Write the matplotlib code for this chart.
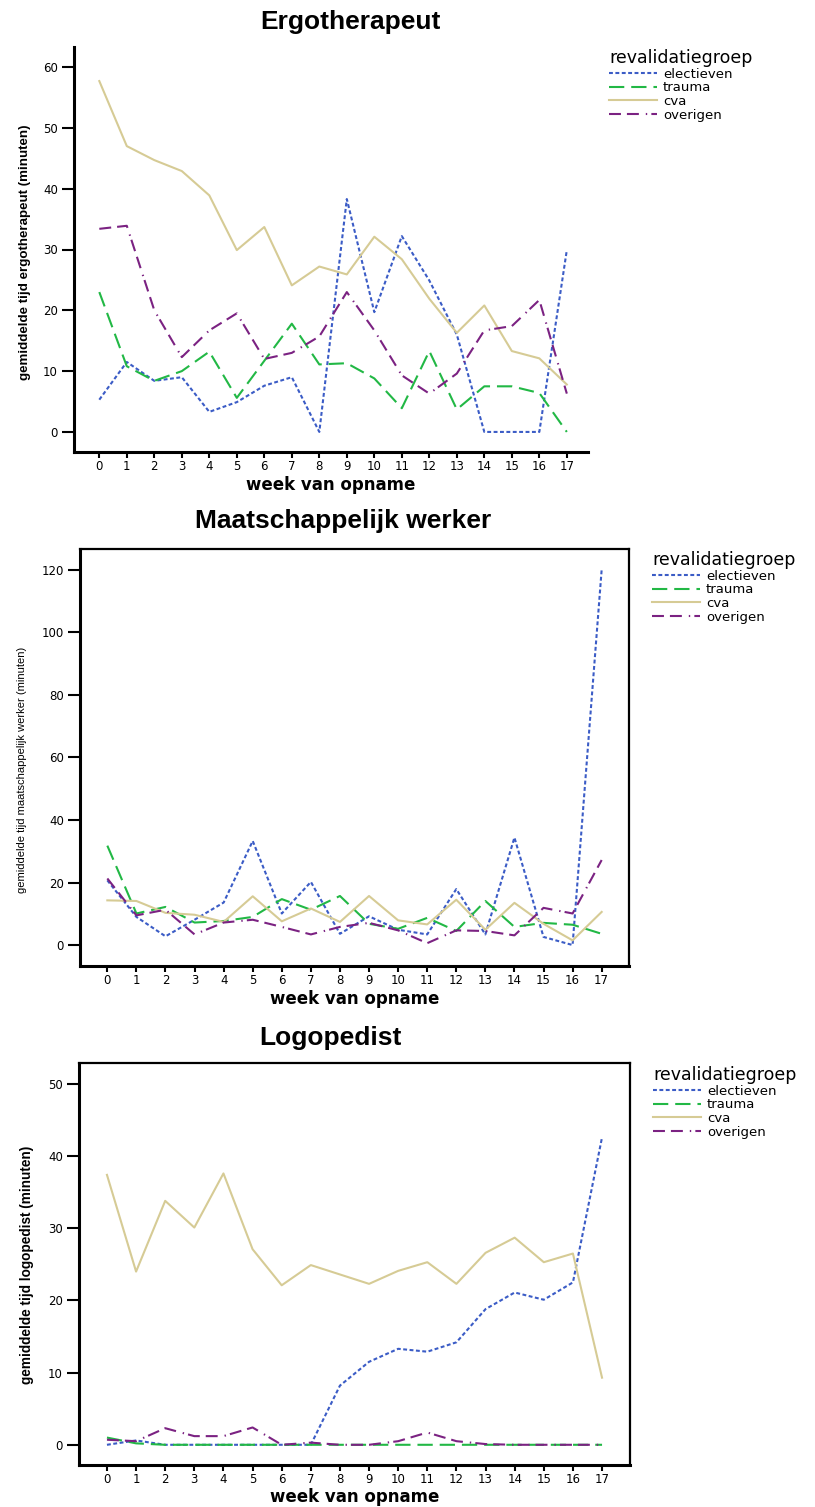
# mean treatment time per week of admission, per rehabilitation group

import matplotlib
matplotlib.use('Agg')
import matplotlib.pyplot as plt

weeks = [0, 1, 2, 3, 4, 5, 6, 7, 8, 9, 10, 11, 12, 13, 14, 15, 16, 17]
groups = ['electieven', 'trauma', 'cva', 'overigen']

# Ergotherapeut
ergo_electieven = [5.3, 11.5, 8.4, 9.0, 3.3, 4.9, 7.6, 9.0, 0.0, 38.3, 19.7, 32.2, 24.9, 16.0, 0.0, 0.0, 0.0, 29.9]
ergo_trauma = [23.0, 10.8, 8.4, 10.0, 13.2, 5.6, 11.7, 17.8, 11.1, 11.3, 8.8, 3.9, 13.3, 3.7, 7.5, 7.5, 6.4, 0.0]
ergo_cva = [57.7, 47.0, 44.7, 42.9, 38.9, 29.9, 33.7, 24.1, 27.2, 25.9, 32.1, 28.4, 21.9, 16.3, 20.8, 13.3, 12.1, 7.8]
ergo_overigen = [33.4, 33.9, 20.0, 12.3, 16.7, 19.5, 12.0, 13.0, 15.7, 23.0, 16.7, 9.3, 6.3, 9.6, 16.7, 17.4, 21.7, 6.3]

# Maatschappelijk werker
mw_electieven = [20.7, 9.0, 2.8, 8.1, 13.6, 33.3, 10.1, 20.2, 3.6, 9.2, 4.9, 3.4, 17.9, 3.4, 34.4, 2.6, 0.0, 120.1]
mw_trauma = [31.8, 10.1, 12.2, 7.2, 7.7, 9.0, 14.7, 11.3, 15.7, 6.8, 5.2, 8.7, 4.5, 14.1, 5.8, 7.1, 6.5, 3.6]
mw_cva = [14.3, 14.1, 10.3, 9.7, 7.4, 15.6, 7.6, 11.7, 7.4, 15.7, 7.9, 6.6, 14.5, 4.9, 13.5, 6.8, 1.5, 10.6]
mw_overigen = [21.3, 9.5, 11.3, 3.4, 7.2, 8.1, 5.8, 3.4, 5.8, 7.1, 4.7, 0.6, 4.7, 4.5, 3.1, 11.9, 10.1, 27.2]

# Logopedist
logo_electieven = [0.0, 0.6, 0.0, 0.0, 0.0, 0.0, 0.0, 0.0, 8.2, 11.5, 13.3, 12.9, 14.2, 18.8, 21.1, 20.1, 22.5, 42.6]
logo_trauma = [1.0, 0.2, 0.0, 0.0, 0.0, 0.0, 0.0, 0.0, 0.0, 0.0, 0.0, 0.0, 0.0, 0.0, 0.0, 0.0, 0.0, 0.0]
logo_cva = [37.4, 24.0, 33.8, 30.1, 37.6, 27.1, 22.1, 24.9, 23.6, 22.3, 24.1, 25.3, 22.3, 26.6, 28.7, 25.3, 26.5, 9.3]
logo_overigen = [0.7, 0.5, 2.3, 1.2, 1.2, 2.4, 0.0, 0.3, 0.0, 0.0, 0.5, 1.7, 0.5, 0.1, 0.0, 0.0, 0.0, 0.0]

plt.rcParams['lines.scale_dashes'] = False

colors = {'electieven': '#3b5cc6', 'trauma': '#22b845', 'cva': '#d6cb95', 'overigen': '#7b2282'}
dashes = {'electieven': (0, (2.8, 1.8)),
          'trauma': (0, (11, 5)),
          'cva': 'solid',
          'overigen': (0, (8.6, 4.3, 8.6, 5.0, 1.0, 3.0))}

W, H = 815, 1507
fig = plt.figure(figsize=(W / 100, H / 100), dpi=100)


def panel(box, xlim, ylim, yticks, series, title, title_xy, ylabel, ylabel_xy, ylabel_style,
          legend_xy, boxed, xlabel_gap):
    x0, y0, x1, y1 = box
    ax = fig.add_axes([x0 / W, 1 - y1 / H, (x1 - x0) / W, (y1 - y0) / H])
    for name, vals in zip(groups, series):
        ax.plot(weeks, vals, color=colors[name], linestyle=dashes[name], lw=1.5, label=name)
    ax.set_xlim(*xlim)
    ax.set_ylim(*ylim)
    ax.set_xticks(weeks)
    ax.set_yticks(yticks)
    ax.tick_params(axis='y', direction='out', length=8.5, width=1.5, pad=3, labelsize=8.5)
    ax.tick_params(axis='x', direction='out', length=4.5, width=1.5, pad=1.5, labelsize=8.5)
    for s in ['left', 'bottom']:
        ax.spines[s].set_linewidth(2.2)
    for s in ['top', 'right']:
        ax.spines[s].set_visible(boxed)
        ax.spines[s].set_linewidth(1.6)
    ax.set_xlabel('week van opname', fontsize=12, fontweight='bold')
    ax.xaxis.set_label_coords(0.5, -xlabel_gap / (y1 - y0))
    fig.text(title_xy[0] / W, 1 - title_xy[1] / H, title, ha='center', va='center',
             fontsize=19, fontweight='bold', family='Liberation Sans')
    fig.text(ylabel_xy[0] / W, 1 - ylabel_xy[1] / H, ylabel, rotation=90, ha='center', va='center',
             family='Liberation Sans', **ylabel_style)
    ax.legend(loc='upper left', bbox_to_anchor=(legend_xy[0] / W, 1 - legend_xy[1] / H),
              bbox_transform=fig.transFigure, frameon=False, borderaxespad=0, borderpad=0,
              title='revalidatiegroep', title_fontsize=12.5, fontsize=9.5, alignment='left',
              handlelength=3.6, handletextpad=0.5, labelspacing=0.05)
    return ax


panel((74, 47, 588, 452), (-0.92, 17.77), (-3.3, 63.3), [0, 10, 20, 30, 40, 50, 60],
      [ergo_electieven, ergo_trauma, ergo_cva, ergo_overigen],
      'Ergotherapeut', (350, 22),
      'gemiddelde tijd ergotherapeut (minuten)', (25, 252), {'fontsize': 9.6, 'fontweight': 'bold'},
      (609, 49), False, 24)

panel((80, 549, 629, 966), (-0.94, 17.94), (-6.7, 126.7), [0, 20, 40, 60, 80, 100, 120],
      [mw_electieven, mw_trauma, mw_cva, mw_overigen],
      'Maatschappelijk werker', (343, 521),
      'gemiddelde tijd maatschappelijk werker (minuten)', (22, 770), {'fontsize': 8},
      (652, 551), True, 24)

panel((79, 1063, 630, 1465), (-0.96, 17.96), (-2.8, 52.9), [0, 10, 20, 30, 40, 50],
      [logo_electieven, logo_trauma, logo_cva, logo_overigen],
      'Logopedist', (330, 1038),
      'gemiddelde tijd logopedist (minuten)', (27, 1265), {'fontsize': 9.8, 'fontweight': 'bold'},
      (653, 1066), True, 22.5)

fig.savefig('out.png', dpi=100)
